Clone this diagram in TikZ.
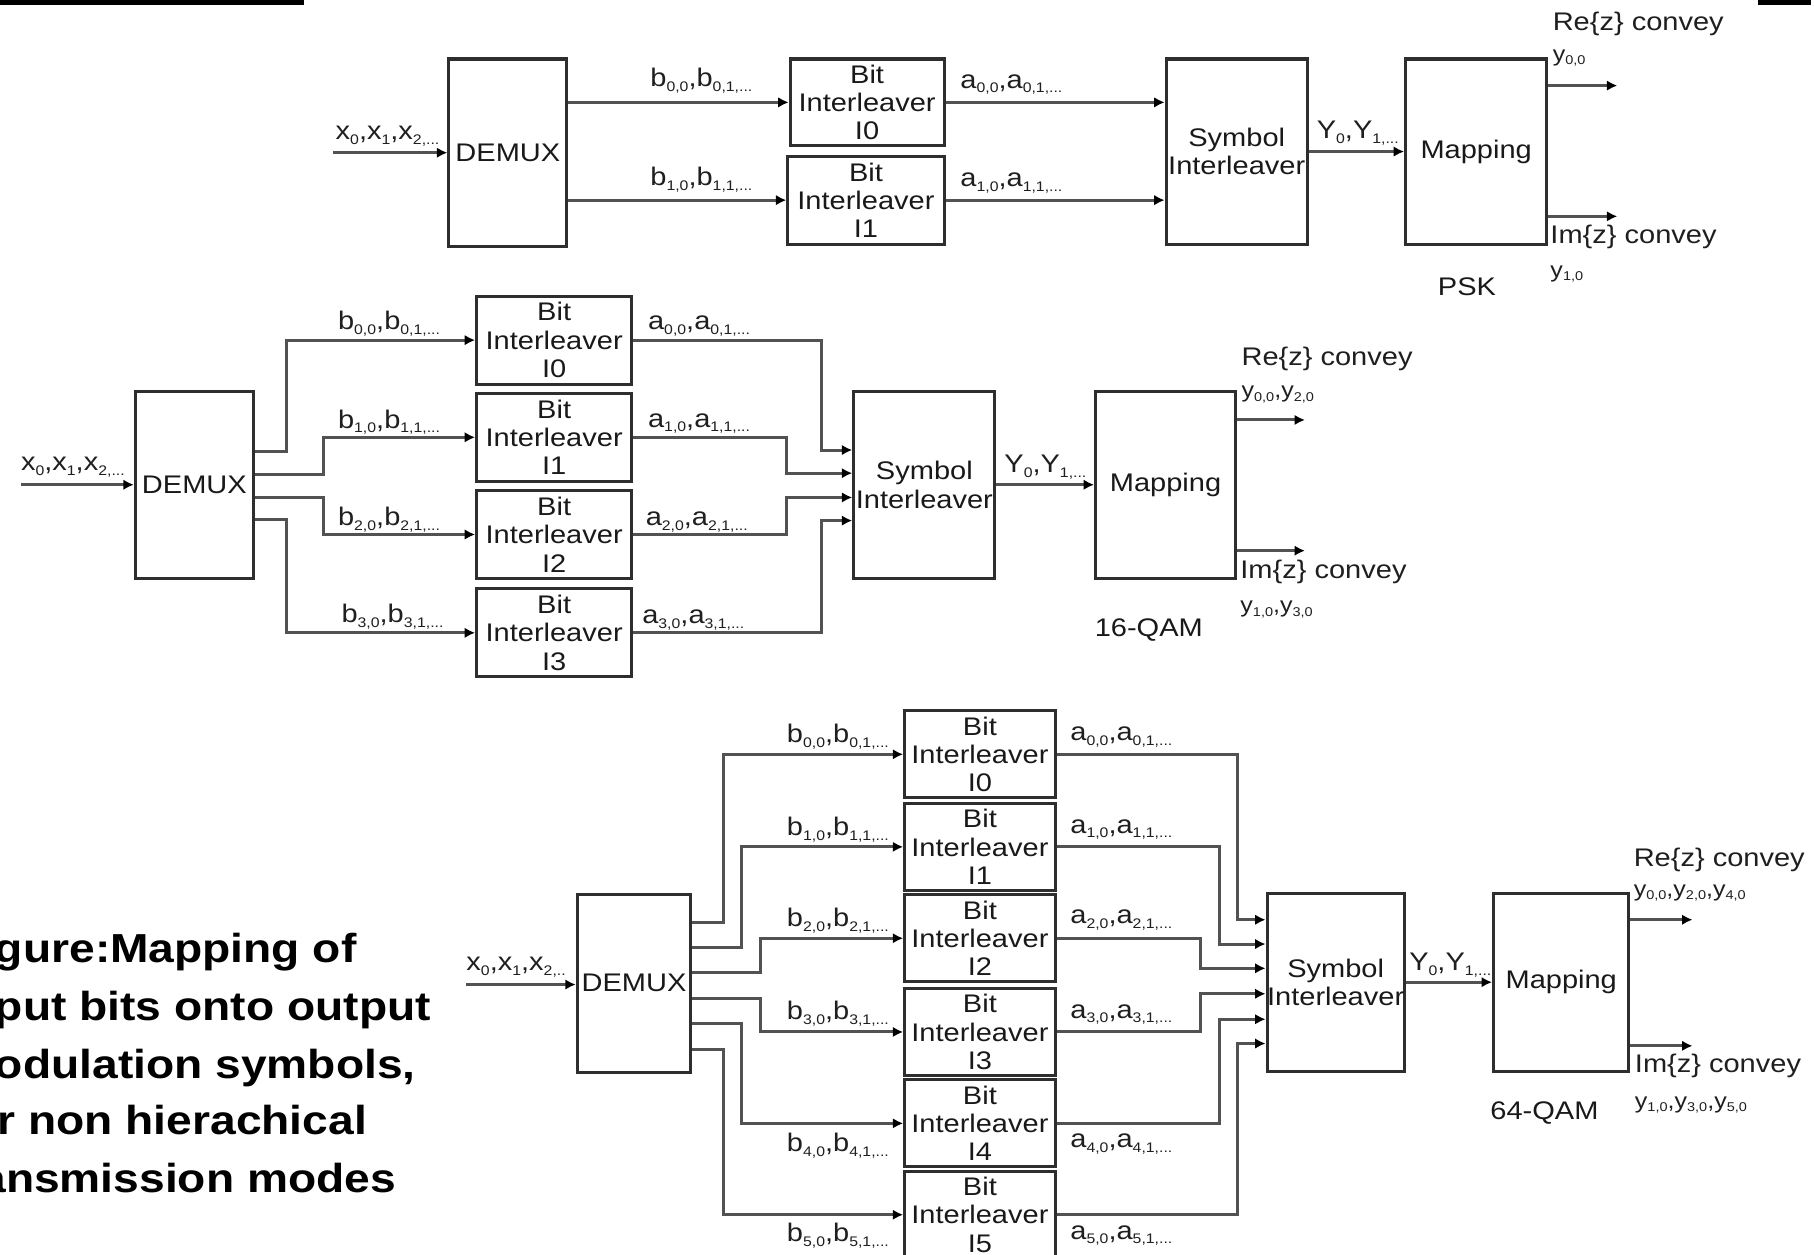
\documentclass[tikz,border=0pt]{standalone}
\usepackage{fontspec}
\setmainfont{Liberation Sans}[FakeStretch=1.14]
\usetikzlibrary{arrows.meta}
% letter with a small lowered index, as in b_{0,0}
\newcommand\lblsub[2]{#1\raisebox{-0.35ex}{\fontsize{12}{12}\selectfont #2}}
\newcommand\outsub[2]{#1\raisebox{-0.3ex}{\fontsize{11}{11}\selectfont #2}}

\begin{document}
\begin{tikzpicture}[x=1pt,y=-1pt,
  box/.style={draw=black!82, line width=2.6pt, inner sep=0pt, align=center,
    text=black!90, font=\fontsize{22}{24.5}\selectfont},
  ilv/.style={box, minimum width=134pt, minimum height=76pt},
  wire/.style={draw=black!68, line width=2.6pt},
  conn/.style={wire, -{Latex[length=9pt,width=9pt,color=black]}},
  lbl/.style={anchor=west, inner sep=0pt, text=black!88, font=\fontsize{22}{22}\selectfont},
  outlbl/.style={anchor=west, inner sep=0pt, text=black!88, font=\fontsize{19}{19}\selectfont},
  plain/.style={inner sep=0pt, text=black!90, font=\fontsize{22}{24}\selectfont},
  captionline/.style={anchor=base west, inner sep=0pt, text=black, font=\bfseries\fontsize{35}{40}\selectfont},
]
\useasboundingbox (0,0) rectangle (1568,1084);
\clip (0,0) rectangle (1568,1084);

% bars along the top edge
\fill[black] (0,0) rectangle (263,4.5);
\fill[black] (1520,0) rectangle (1565,4.5);

% ---------------- PSK: two branches ----------------
\node[box, minimum width=102pt, minimum height=162pt] (demuxA) at (439,132) {DEMUX};
\node[ilv, minimum width=133pt, minimum height=75pt] (biA0) at (749.5,88.5) {Bit\\Interleaver\\I0};
\node[ilv, minimum width=135pt] (biA1) at (748.5,173) {Bit\\Interleaver\\I1};
\node[box, minimum width=122pt, minimum height=160pt] (siA) at (1069,131) {Symbol\\Interleaver};
\node[box, minimum width=122pt, minimum height=160pt] (mapA) at (1276,131) {Mapping};

\coordinate (inA) at (288,132);
\coordinate (reA) at (1398,74);
\coordinate (imA) at (1398,187);
\draw[conn] (inA) -- (demuxA.west |- inA);
\draw[conn] (demuxA.east |- biA0.west) -- (biA0.west);
\draw[conn] (demuxA.east |- biA1.west) -- (biA1.west);
\draw[conn] (biA0.east) -- (siA.west |- biA0.east);
\draw[conn] (biA1.east) -- (siA.west |- biA1.east);
\draw[conn] (siA.east) -- (mapA.west);
\draw[conn] (mapA.east |- reA) -- (reA);
\draw[conn] (mapA.east |- imA) -- (imA);

\node[lbl] (xA) at (290,118) {\lblsub{x}{0},\lblsub{x}{1},\lblsub{x}{2,...}};
\node[lbl] (bA0) at (562,70) {\lblsub{b}{0,0},\lblsub{b}{0,1,...}};
\node[lbl] (bA1) at (562,155) {\lblsub{b}{1,0},\lblsub{b}{1,1,...}};
\node[lbl] (aA0) at (830,73) {\lblsub{a}{0,0},\lblsub{a}{0,1,...}};
\node[lbl] (aA1) at (830,158) {\lblsub{a}{1,0},\lblsub{a}{1,1,...}};
\node[lbl] (yA) at (1138,115) {\lblsub{Y}{0},\lblsub{Y}{1,...}};
\node[lbl] (reAt) at (1342,21) {Re\{z\} convey};
\node[outlbl] (reAy) at (1342,50) {\outsub{y}{0,0}};
\node[lbl] (imAt) at (1340,205) {Im\{z\} convey};
\node[outlbl] (imAy) at (1340,237) {\outsub{y}{1,0}};
\node[plain] (modA) at (1268,248) {PSK};

% ---------------- 16-QAM: four branches ----------------
\node[box, minimum width=102pt, minimum height=162pt] (demuxB) at (168,419) {DEMUX};
\node[ilv] (biB0) at (479,294) {Bit\\Interleaver\\I0};
\node[ilv] (biB1) at (479,378) {Bit\\Interleaver\\I1};
\node[ilv] (biB2) at (479,462) {Bit\\Interleaver\\I2};
\node[ilv] (biB3) at (479,547) {Bit\\Interleaver\\I3};
\node[box, minimum width=122pt, minimum height=162pt] (siB) at (799,419) {Symbol\\Interleaver};
\node[box, minimum width=121pt, minimum height=162pt] (mapB) at (1007.5,419) {Mapping};

\coordinate (inB) at (18,419);
\coordinate (reB) at (1128,363);
\coordinate (imB) at (1128,476);
\draw[conn] (inB) -- (demuxB.west |- inB);
% demultiplexer outputs
\draw[conn] (demuxB.east |- 0,390) -- (248,390) |- (biB0.west);
\draw[conn] (demuxB.east |- 0,410) -- (280,410) |- (biB1.west);
\draw[conn] (demuxB.east |- 0,430) -- (280,430) |- (biB2.west);
\draw[conn] (demuxB.east |- 0,449) -- (248,449) |- (biB3.west);
% interleaver outputs into the symbol interleaver
\draw[conn] (biB0.east) -| (710,389) -- (siB.west |- 0,389);
\draw[conn] (biB1.east) -| (680,409) -- (siB.west |- 0,409);
\draw[conn] (biB2.east) -| (680,430) -- (siB.west |- 0,430);
\draw[conn] (biB3.east) -| (710,450) -- (siB.west |- 0,450);
\draw[conn] (siB.east) -- (mapB.west);
\draw[conn] (mapB.east |- reB) -- (reB);
\draw[conn] (mapB.east |- imB) -- (imB);

\node[lbl] (xB) at (18,404) {\lblsub{x}{0},\lblsub{x}{1},\lblsub{x}{2,...}};
\node[lbl] (bB0) at (292,280) {\lblsub{b}{0,0},\lblsub{b}{0,1,...}};
\node[lbl] (bB1) at (292,365) {\lblsub{b}{1,0},\lblsub{b}{1,1,...}};
\node[lbl] (bB2) at (292,449) {\lblsub{b}{2,0},\lblsub{b}{2,1,...}};
\node[lbl] (bB3) at (295,533) {\lblsub{b}{3,0},\lblsub{b}{3,1,...}};
\node[lbl] (aB0) at (560,282) {\lblsub{a}{0,0},\lblsub{a}{0,1,...}};
\node[lbl] (aB1) at (560,366) {\lblsub{a}{1,0},\lblsub{a}{1,1,...}};
\node[lbl] (aB2) at (558,451) {\lblsub{a}{2,0},\lblsub{a}{2,1,...}};
\node[lbl] (aB3) at (555,536) {\lblsub{a}{3,0},\lblsub{a}{3,1,...}};
\node[lbl] (yB) at (868,404) {\lblsub{Y}{0},\lblsub{Y}{1,...}};
\node[lbl] (reBt) at (1073,310) {Re\{z\} convey};
\node[outlbl] (reBy) at (1073,341) {\outsub{y}{0,0},\outsub{y}{2,0}};
\node[lbl] (imBt) at (1072,494) {Im\{z\} convey};
\node[outlbl] (imBy) at (1072,527) {\outsub{y}{1,0},\outsub{y}{3,0}};
\node[plain] (modB) at (993,545) {16-QAM};

% ---------------- 64-QAM: six branches ----------------
\node[box, minimum width=98pt, minimum height=154pt] (demuxC) at (548,850) {DEMUX};
\node[ilv, minimum width=130pt, minimum height=75pt] (biC0) at (847,652) {Bit\\Interleaver\\I0};
\node[ilv, minimum width=130pt, minimum height=75pt] (biC1) at (847,732) {Bit\\Interleaver\\I1};
\node[ilv, minimum width=130pt, minimum height=75pt] (biC2) at (847,811) {Bit\\Interleaver\\I2};
\node[ilv, minimum width=130pt, minimum height=75pt] (biC3) at (847,892) {Bit\\Interleaver\\I3};
\node[ilv, minimum width=130pt, minimum height=75pt] (biC4) at (847,971) {Bit\\Interleaver\\I4};
\node[ilv, minimum width=130pt, minimum height=75pt] (biC5) at (847,1050) {Bit\\Interleaver\\I5};
\node[box, minimum width=115pt, minimum height=154pt] (siC) at (1154.5,849) {Symbol\\Interleaver};
\node[box, minimum width=117pt, minimum height=154pt] (mapC) at (1349.5,849) {Mapping};

\coordinate (inC) at (403,851);
\coordinate (reC) at (1463,795);
\coordinate (imC) at (1463,904);
\draw[conn] (inC) -- (demuxC.west |- inC);
% demultiplexer outputs
\draw[conn] (demuxC.east |- 0,797) -- (625,797) |- (biC0.west);
\draw[conn] (demuxC.east |- 0,819) -- (641,819) |- (biC1.west);
\draw[conn] (demuxC.east |- 0,841) -- (657,841) |- (biC2.west);
\draw[conn] (demuxC.east |- 0,863) -- (657,863) |- (biC3.west);
\draw[conn] (demuxC.east |- 0,885) -- (641,885) |- (biC4.west);
\draw[conn] (demuxC.east |- 0,907) -- (625,907) |- (biC5.west);
% interleaver outputs into the symbol interleaver
\draw[conn] (biC0.east) -| (1070,795) -- (siC.west |- 0,795);
\draw[conn] (biC1.east) -| (1054,816) -- (siC.west |- 0,816);
\draw[conn] (biC2.east) -| (1038,837) -- (siC.west |- 0,837);
\draw[conn] (biC3.east) -| (1038,859) -- (siC.west |- 0,859);
\draw[conn] (biC4.east) -| (1054,881) -- (siC.west |- 0,881);
\draw[conn] (biC5.east) -| (1070,902) -- (siC.west |- 0,902);
\draw[conn] (siC.east) -- (mapC.west);
\draw[conn] (mapC.east |- reC) -- (reC);
\draw[conn] (mapC.east |- imC) -- (imC);

\node[lbl] (xC) at (403,836) {\lblsub{x}{0},\lblsub{x}{1},\lblsub{x}{2,..}};
\node[lbl] (bC0) at (680,637) {\lblsub{b}{0,0},\lblsub{b}{0,1,...}};
\node[lbl] (bC1) at (680,717) {\lblsub{b}{1,0},\lblsub{b}{1,1,...}};
\node[lbl] (bC2) at (680,796) {\lblsub{b}{2,0},\lblsub{b}{2,1,...}};
\node[lbl] (bC3) at (680,876) {\lblsub{b}{3,0},\lblsub{b}{3,1,...}};
\node[lbl] (bC4) at (680,990) {\lblsub{b}{4,0},\lblsub{b}{4,1,...}};
\node[lbl] (bC5) at (680,1068) {\lblsub{b}{5,0},\lblsub{b}{5,1,...}};
\node[lbl] (aC0) at (925,637) {\lblsub{a}{0,0},\lblsub{a}{0,1,...}};
\node[lbl] (aC1) at (925,717) {\lblsub{a}{1,0},\lblsub{a}{1,1,...}};
\node[lbl] (aC2) at (925,795) {\lblsub{a}{2,0},\lblsub{a}{2,1,...}};
\node[lbl] (aC3) at (925,877) {\lblsub{a}{3,0},\lblsub{a}{3,1,...}};
\node[lbl] (aC4) at (925,989) {\lblsub{a}{4,0},\lblsub{a}{4,1,...}};
\node[lbl] (aC5) at (925,1068) {\lblsub{a}{5,0},\lblsub{a}{5,1,...}};
\node[lbl] (yC) at (1218,834) {\lblsub{Y}{0},\lblsub{Y}{1,...}};
\node[lbl] (reCt) at (1412,743) {Re\{z\} convey};
\node[outlbl] (reCy) at (1412,772) {\outsub{y}{0,0},\outsub{y}{2,0},\outsub{y}{4,0}};
\node[lbl] (imCt) at (1413,921) {Im\{z\} convey};
\node[outlbl] (imCy) at (1413,955) {\outsub{y}{1,0},\outsub{y}{3,0},\outsub{y}{5,0}};
\node[plain] (modC) at (1335,962) {64-QAM};

% ---------------- caption ----------------
\node[captionline] (cap1) at (-40,832) {Figure:Mapping of};
\node[captionline] (cap2) at (-40,882) {input bits onto output};
\node[captionline] (cap3) at (-40,932) {modulation symbols,};
\node[captionline] (cap4) at (-40,981) {for non hierachical};
\node[captionline] (cap5) at (-46,1031) {transmission modes};
\end{tikzpicture}
\end{document}
